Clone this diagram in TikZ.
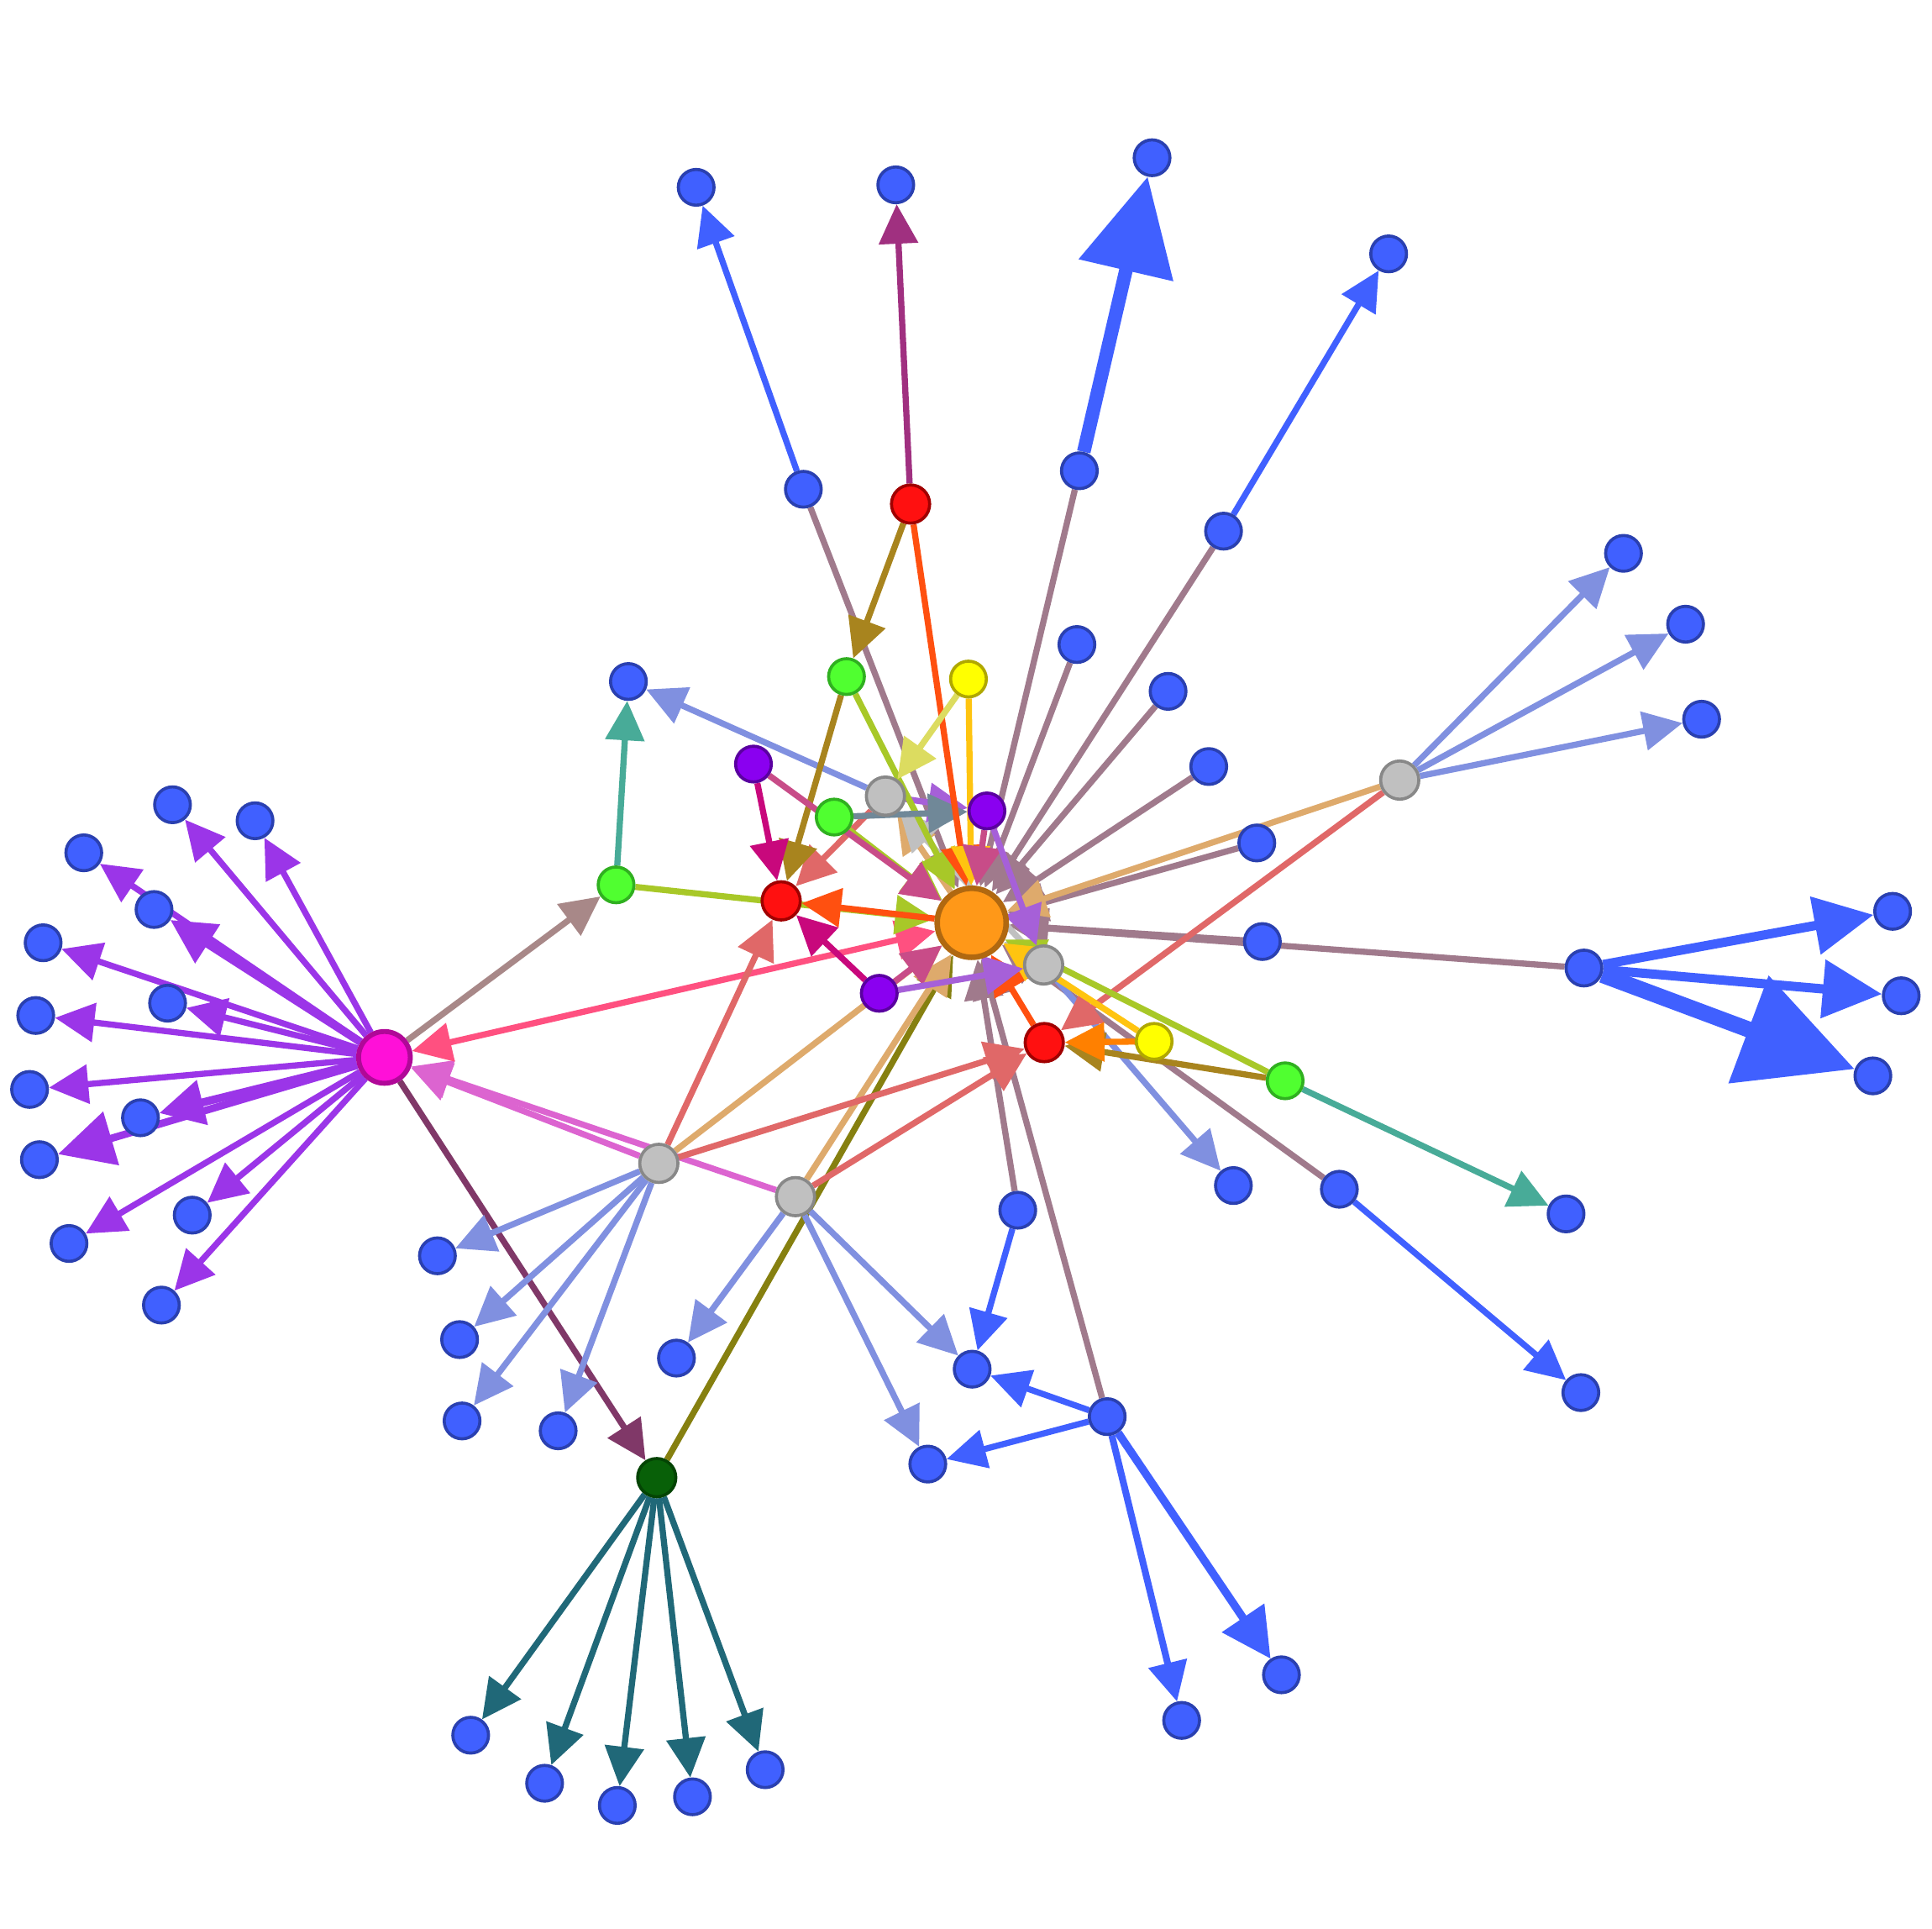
\documentclass[tikz,border=0pt]{standalone}
\usetikzlibrary{arrows.meta,backgrounds}

\definecolor{leaffill}{HTML}{4060FF}
\definecolor{leafdraw}{HTML}{2A40B0}
\definecolor{ofill}{HTML}{FF9818}
\definecolor{odraw}{HTML}{B06810}
\definecolor{mfill}{HTML}{FF10D8}
\definecolor{mdraw}{HTML}{B00898}
\definecolor{gfill}{HTML}{086008}
\definecolor{gdraw}{HTML}{044404}
\definecolor{rfill}{HTML}{FF1010}
\definecolor{rdraw}{HTML}{A00000}
\definecolor{grfill}{HTML}{50FF30}
\definecolor{grdraw}{HTML}{30B020}
\definecolor{yfill}{HTML}{FFFF00}
\definecolor{ydraw}{HTML}{B0A800}
\definecolor{pfill}{HTML}{8A00F0}
\definecolor{pdraw}{HTML}{5A00A0}
\definecolor{gyfill}{HTML}{C0C0C0}
\definecolor{gydraw}{HTML}{888888}

\definecolor{cblue}{HTML}{4060FF}
\definecolor{cperi}{HTML}{8090E0}
\definecolor{cmauve}{HTML}{A07A8C}
\definecolor{cpurple}{HTML}{9B35E8}
\definecolor{cpink}{HTML}{FF5080}
\definecolor{corchid}{HTML}{DC64D0}
\definecolor{cmaroon}{HTML}{803868}
\definecolor{cteal}{HTML}{48AB98}
\definecolor{cyg}{HTML}{A8C828}
\definecolor{cored}{HTML}{FF5010}
\definecolor{cmag}{HTML}{C8087C}
\definecolor{colive}{HTML}{A8841E}
\definecolor{csalmon}{HTML}{E06868}
\definecolor{cplum}{HTML}{A03080}
\definecolor{cly}{HTML}{DCDC60}
\definecolor{cgold}{HTML}{FFC410}
\definecolor{cmp}{HTML}{C84C88}
\definecolor{cslate}{HTML}{708898}
\definecolor{cpurp}{HTML}{A660D8}
\definecolor{clgray}{HTML}{C0C0C0}
\definecolor{ctan}{HTML}{DEAA6C}
\definecolor{cdolive}{HTML}{868010}
\definecolor{corange}{HTML}{FF8000}
\definecolor{cdteal}{HTML}{206878}
\definecolor{crose}{HTML}{A88888}

\tikzset{
  dot/.style={circle, inner sep=0pt, line width=2.5pt},
  leaf/.style={dot, minimum size=29pt, draw=leafdraw, fill=leaffill},
  link/.style={line width=5pt, -{Triangle[length=32pt,width=31pt]}},
  both/.style={line width=5pt, {Triangle[length=32pt,width=31pt]}-{Triangle[length=32pt,width=31pt]}},
  mid/.style={line width=6.5pt, -{Triangle[length=40pt,width=40pt]}},
  wide/.style={line width=7.5pt, -{Triangle[length=48pt,width=46pt]}},
  huge/.style={line width=13pt, -{Triangle[length=92pt,width=90pt]}}
}

\begin{document}
\begin{tikzpicture}[x=1pt, y=-1pt]
	\useasboundingbox (0,0) rectangle (1568,1565);

	% hubs
	\node[dot, minimum size=56pt, line width=4.5pt, draw=odraw, fill=ofill] (o) at (788.6,748.8) {};
	\node[dot, minimum size=42pt, line width=4pt, draw=mdraw, fill=mfill] (m) at (312,858) {};
	\node[dot, minimum size=31pt, draw=gdraw, fill=gfill] (g) at (533,1199) {};

	% coloured nodes
	\foreach \n/\x/\y in {r1/634/731, r2/739/409, r3/847.5/846}
		\node[dot, minimum size=31pt, draw=rdraw, fill=rfill] (\n) at (\x,\y) {};
	\foreach \n/\x/\y in {gn1/500/718, gn2/687/549, gn3/677/663, gn4/1043/877}
		\node[dot, minimum size=29pt, draw=grdraw, fill=grfill] (\n) at (\x,\y) {};
	\foreach \n/\x/\y in {y1/786/551, y2/936.7/845}
		\node[dot, minimum size=29pt, draw=ydraw, fill=yfill] (\n) at (\x,\y) {};
	\foreach \n/\x/\y in {p1/611.5/620, p2/713.6/806, p3/801/658}
		\node[dot, minimum size=29pt, draw=pdraw, fill=pfill] (\n) at (\x,\y) {};
	\foreach \n/\x/\y in {gy1/534.7/944, gy2/645.6/971, gyt/718.6/646, gym/847/783, gyr/1136/633}
		\node[dot, minimum size=31pt, draw=gydraw, fill=gyfill] (\n) at (\x,\y) {};

	% leaves
	\foreach \n/\x/\y in {b1/565/152, b2/727/150, b3/935/128, b4/1127/206, b5/652/397,
		b6/876/382, b7/993/431, b8/874/523, b9/948/561, b10/981/622, b11/1020/684,
		b12/1024.5/764, b13/1285.5/785.5, b14/1536/739.5, b15/1543/808, b16/1520/873,
		b17/1317.6/449, b18/1368/506.5, b19/1381/583.6, b20/510/553, b21/1001/962,
		b22/1087/965, b23/1271/985, b24/1283/1130, b25/826/982, b26/789/1111,
		b27/898.6/1149.5, b28/753/1188, b29/959/1396, b30/1040/1359, b31/549/1102,
		b32/355/1019, b33/373/1087, b34/375/1153, b35/453/1161, b36/382/1408,
		b37/442/1447, b38/501/1465, b39/562/1458, b40/621/1436}
		\node[leaf] (\n) at (\x,\y) {};
	\foreach \n/\x/\y in {l1/140/653, l2/207/666, l3/68/692, l4/125/738, l5/35/765,
		l6/136/814, l7/29/824, l8/24/884, l9/114/907, l10/32/941, l11/156/986,
		l12/56/1009, l13/131/1059}
		\node[leaf] (\n) at (\x,\y) {};

	\begin{pgfonlayer}{background}
		% into the orange hub
		\foreach \s in {b5,b6,b7,b8,b9,b10,b11,b12,b13,b22,b25,b27}
			\draw[link, cmauve] (\s) -- (o);

		% magenta hub
		\foreach \t in {l1,l2,l3,l5,l6,l7,l8,l11,l12,l13}
			\draw[link, cpurple] (m) -- (\t);
		\foreach \t in {l4,l9}
			\draw[link, cpurple, line width=6.5pt, -{Triangle[length=36pt,width=36pt]}] (m) -- (\t);
		\draw[link, cpurple, line width=6pt, -{Triangle[length=45pt,width=44pt]}] (m) -- (l10);
		\draw[link, cmaroon] (m) -- (g);
		\draw[link, crose] (m) -- (gn1);
		\draw[link, corchid] (gy2) -- (m);
		\draw[link, corchid] (gy1) -- (m);
		\draw[both, cpink] (m) -- (o);

		% dark green hub
		\foreach \t in {b36,b37,b38,b39,b40}
			\draw[link, cdteal] (g) -- (\t);
		\draw[link, cdolive] (g) -- (o);

		% grey nodes
		\foreach \t in {b32,b33,b34,b35}
			\draw[link, cperi] (gy1) -- (\t);
		\foreach \t in {b31,b26,b28}
			\draw[link, cperi] (gy2) -- (\t);
		\foreach \t in {b17,b18,b19}
			\draw[link, cperi] (gyr) -- (\t);
		\draw[link, cperi] (gyt) -- (b20);
		\draw[link, cperi] (gym) -- (b21);
		\draw[link, ctan] (gy1) -- (o);
		\draw[link, ctan] (gy2) -- (o);
		\draw[link, ctan] (gyr) -- (o);
		\draw[link, ctan] (o) -- (gyt);
		\draw[link, clgray] (gym) -- (gyt);
		\draw[link, clgray] (gym) -- (o);
		\draw[link, csalmon] (gy1) -- (r1);
		\draw[link, csalmon] (gy1) -- (r3);
		\draw[link, csalmon] (gy2) -- (r3);
		\draw[link, csalmon] (gyr) -- (r3);
		\draw[link, csalmon] (gyt) -- (r1);
		\draw[link, cpurp] (gyt) -- (p3);

		% blue chains
		\draw[link, cblue] (b5) -- (b1);
		\draw[huge, cblue, line width=11pt, -{Triangle[length=78pt,width=76pt]}] (b6) -- (b3);
		\draw[link, cblue] (b7) -- (b4);
		\draw[wide, cblue] (b13) -- (b14);
		\draw[wide, cblue] (b13) -- (b15);
		\draw[huge, cblue] (b13) -- (b16);
		\draw[link, cblue] (b22) -- (b24);
		\draw[link, cblue] (b25) -- (b26);
		\draw[link, cblue] (b27) -- (b26);
		\draw[link, cblue] (b27) -- (b28);
		\draw[link, cblue, line width=5.5pt] (b27) -- (b29);
		\draw[mid, cblue] (b27) -- (b30);

		% green nodes
		\draw[link, cteal] (gn1) -- (b20);
		\draw[link, cteal] (gn4) -- (b23);
		\draw[link, cyg] (gn1) -- (o);
		\draw[link, cyg] (gn2) -- (o);
		\draw[link, cyg, line width=3.5pt] (gn3) -- (o);
		\draw[link, cyg] (gn4) -- (o);
		\draw[link, colive] (gn2) -- (r1);
		\draw[link, colive] (gn4) -- (r3);
		\draw[link, cslate] (gn3) -- (p3);

		% red, yellow and purple nodes
		\draw[link, cplum] (r2) -- (b2);
		\draw[link, colive] (r2) -- (gn2);
		\draw[link, cored] (r2) -- (o);
		\draw[link, cored] (o) -- (r1);
		\draw[link, cored] (r3) -- (o);
		\draw[link, cly] (y1) -- (gyt);
		\draw[link, cgold] (y1) -- (o);
		\draw[link, cgold] (y2) -- (o);
		\draw[link, corange] (y2) -- (r3);
		\draw[link, cmag] (p1) -- (r1);
		\draw[link, cmag] (p2) -- (r1);
		\draw[link, cmp] (p1) -- (o);
		\draw[link, cmp] (p2) -- (o);
		\draw[link, cmp] (p3) -- (o);
		\draw[link, cpurp] (p2) -- (gym);
		\draw[link, cpurp] (p3) -- (gym);
	\end{pgfonlayer}

\end{tikzpicture}
\end{document}
